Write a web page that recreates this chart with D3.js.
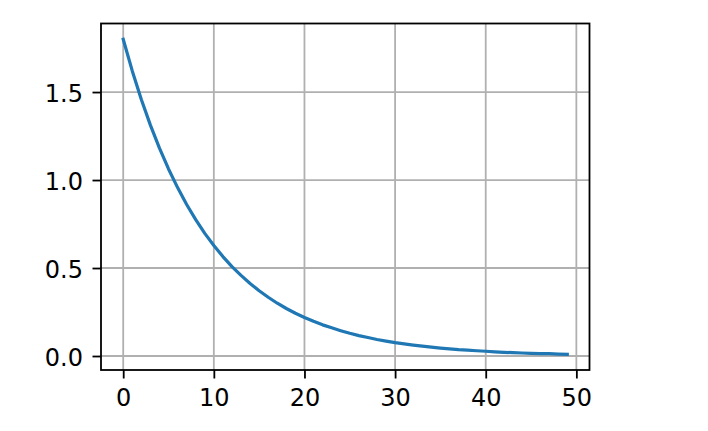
<!DOCTYPE html>
<html>
<head>
<meta charset="utf-8">
<script src="https://cdn.jsdelivr.net/npm/d3@7"></script>
<style>
html,body{margin:0;padding:0;background:#fff;}
svg{display:block;}
text{font-family:"DejaVu Sans",sans-serif;}
</style>
</head>
<body>
<svg id="chart" width="708" height="431"></svg>
<script>
// x values (epochs) and decaying series values
const xValues = [0,1,2,3,4,5,6,7,8,9,10,11,12,13,14,15,16,17,18,19,20,21,22,23,24,25,26,27,28,29,30,31,32,33,34,35,36,37,38,39,40,41,42,43,44,45,46,47,48,49];
const yValues = [1.800,1.620,1.458,1.312,1.181,1.063,0.957,0.861,0.775,0.697,
                 0.628,0.565,0.508,0.458,0.412,0.371,0.334,0.300,0.270,0.243,
                 0.219,0.197,0.177,0.160,0.144,0.129,0.116,0.105,0.094,0.085,
                 0.076,0.069,0.062,0.056,0.050,0.045,0.041,0.036,0.033,0.030,
                 0.027,0.024,0.021,0.019,0.017,0.015,0.014,0.013,0.011,0.010];
const xTicks = [0,10,20,30,40,50];
const yTicks = [0.0,0.5,1.0,1.5];

const svg = d3.select("#chart");
const L = 101, R = 589.5, T = 23.5, B = 370;

const xmin = d3.min(xValues), xmax = d3.max(xValues);
const ymin = d3.min(yValues), ymax = d3.max(yValues);
const xm = (xmax - xmin) * 0.05, ym = (ymax - ymin) * 0.05;

const x = d3.scaleLinear().domain([xmin - xm, xmax + xm]).range([L, R]);
const y = d3.scaleLinear().domain([ymin - ym, ymax + ym]).range([B, T]);

const grid = svg.append("g");
grid.selectAll("line.gx").data(xTicks).enter().append("line")
  .attr("x1", d => x(d)).attr("x2", d => x(d)).attr("y1", T).attr("y2", B)
  .attr("stroke", "#b0b0b0").attr("stroke-width", 1.8);
grid.selectAll("line.gy").data(yTicks).enter().append("line")
  .attr("y1", d => y(d)).attr("y2", d => y(d)).attr("x1", L).attr("x2", R)
  .attr("stroke", "#b0b0b0").attr("stroke-width", 1.8);

const line = d3.line().x((d, i) => x(xValues[i])).y(d => y(d));
svg.append("path").datum(yValues).attr("d", line)
  .attr("fill", "none").attr("stroke", "#1f77b4").attr("stroke-width", 3.2)
  .attr("stroke-linecap", "square").attr("stroke-linejoin", "round");

// axes via d3
const xAxis = d3.axisBottom(x).tickValues(xTicks).tickFormat(d3.format("d")).tickSize(8.5).tickPadding(9);
const yAxis = d3.axisLeft(y).tickValues(yTicks).tickFormat(d3.format(".1f")).tickSize(8.5).tickPadding(9.5);

const gx = svg.append("g").attr("transform", `translate(0,${B})`).call(xAxis);
const gy = svg.append("g").attr("transform", `translate(${L},0)`).call(yAxis);
[gx, gy].forEach(g => {
  g.select(".domain").remove();
  g.selectAll(".tick line").attr("stroke", "#000").attr("stroke-width", 1.8);
  g.selectAll(".tick text").attr("fill", "#000").attr("font-size", 24)
    .attr("font-family", "DejaVu Sans, sans-serif");
});
gy.selectAll(".tick text").attr("dy", "0.4em");
gx.selectAll(".tick text").attr("dy", "0.76em");

svg.append("rect").attr("x", L).attr("y", T).attr("width", R - L).attr("height", B - T)
  .attr("fill", "none").attr("stroke", "#000").attr("stroke-width", 1.8);
</script>
</body>
</html>
